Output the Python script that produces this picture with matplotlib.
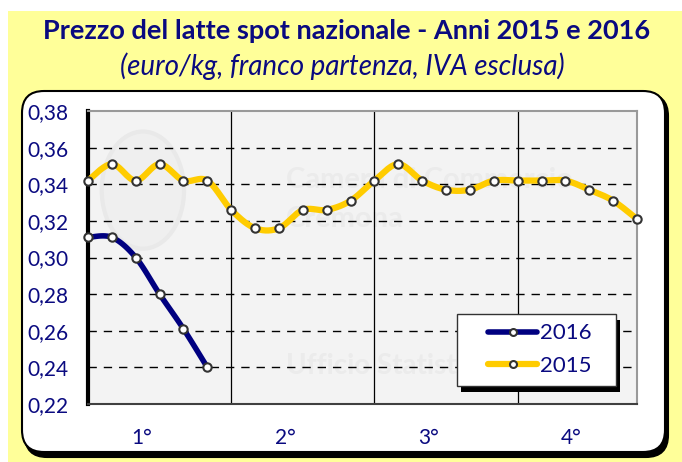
import numpy as np
import matplotlib
matplotlib.use("Agg")
import matplotlib.pyplot as plt
from matplotlib.patches import FancyBboxPatch, Rectangle, Ellipse
from matplotlib.lines import Line2D

plt.rcParams['font.family'] = ['Lato', 'DejaVu Sans']

# ================= dati =================
quarters = ['1°', '2°', '3°', '4°']
prezzi_2015 = [0.342, 0.351, 0.342, 0.351, 0.342, 0.342,
               0.326, 0.316, 0.316, 0.326, 0.326, 0.331,
               0.342, 0.351, 0.342, 0.337, 0.337, 0.342,
               0.342, 0.342, 0.342, 0.337, 0.331, 0.321]
prezzi_2016 = [0.311, 0.311, 0.300, 0.280, 0.261, 0.240]
y_ticks = [0.22, 0.24, 0.26, 0.28, 0.30, 0.32, 0.34, 0.36, 0.38]
# ========================================

NAVY = '#0a0a80'
GOLD = '#ffcc00'
BLUE = '#000080'
W, H = 682, 462


def smooth(xs, ys, n=16):
    # curva tipo "linea smussata" di Excel (Catmull-Rom)
    p = np.column_stack([xs, ys]).astype(float)
    p = np.vstack([p[0], p, p[-1]])
    out = []
    for i in range(1, len(p) - 2):
        p0, p1, p2, p3 = p[i - 1], p[i], p[i + 1], p[i + 2]
        t = np.linspace(0, 1, n, endpoint=False)[:, None]
        seg = 0.5 * ((2 * p1) + (-p0 + p2) * t + (2 * p0 - 5 * p1 + 4 * p2 - p3) * t ** 2
                     + (-p0 + 3 * p1 - 3 * p2 + p3) * t ** 3)
        out.append(seg)
    out.append(p[-2][None, :])
    c = np.vstack(out)
    return c[:, 0], c[:, 1]


fig = plt.figure(figsize=(W / 100, H / 100), dpi=100)
fig.patch.set_facecolor('white')

# sfondo in pixel
bg = fig.add_axes([0, 0, 1, 1])
bg.set_xlim(0, W)
bg.set_ylim(H, 0)
bg.axis('off')
bg.add_patch(Rectangle((8, 11), W - 8, H - 11, facecolor='#ffff99', edgecolor='none'))
bg.add_patch(FancyBboxPatch((25, 94), 643, 363, boxstyle='round,pad=0,rounding_size=22',
                            facecolor='black', edgecolor='black', lw=1.5))
bg.add_patch(FancyBboxPatch((22, 91), 643, 361, boxstyle='round,pad=0,rounding_size=22',
                            facecolor='white', edgecolor='black', lw=1.5))

fig.text(347 / W, 1 - 31 / H, 'Prezzo del latte spot nazionale - Anni 2015 e 2016',
         ha='center', va='center', fontsize=19.5, fontweight='bold', color=NAVY)
fig.text(342 / W, 1 - 66 / H, '(euro/kg, franco partenza, IVA esclusa)',
         ha='center', va='center', fontsize=20, style='italic', color=NAVY)

left, right, top, bottom = 88, 637, 111, 404
ax = fig.add_axes([left / W, 1 - bottom / H, (right - left) / W, (bottom - top) / H])
ax.set_facecolor('#f3f3f3')

# filigrana
ax.add_patch(Ellipse((0.10, 0.73), 0.15, 0.40, transform=ax.transAxes,
                     facecolor='#efefef', edgecolor='#e9e9e9', lw=3, zorder=0))
ax.text(0.36, 0.765, 'Camera di Commercio', transform=ax.transAxes, fontsize=21,
        fontweight='bold', color='#ebebeb', va='center', ha='left', zorder=0)
ax.text(0.36, 0.63, 'Cremona', transform=ax.transAxes, fontsize=21,
        fontweight='bold', color='#ebebeb', va='center', ha='left', zorder=0)
ax.text(0.36, 0.13, 'Ufficio Statistica', transform=ax.transAxes, fontsize=20,
        fontweight='bold', color='#ebebeb', va='center', ha='left', zorder=0)

x15 = np.arange(len(prezzi_2015))
x16 = np.arange(len(prezzi_2016))

ax.set_xlim(0, len(prezzi_2015) - 1)
ax.set_ylim(y_ticks[0], y_ticks[-1])
ax.set_yticks(y_ticks)
ax.set_yticklabels([f'{v:.2f}'.replace('.', ',') for v in y_ticks])
ax.tick_params(axis='y', length=0, pad=14, labelsize=15, labelcolor=NAVY)
ax.set_xticks([2.25 + 6 * i for i in range(len(quarters))])
ax.set_xticklabels(quarters)
ax.tick_params(axis='x', length=0, pad=17, labelsize=15, labelcolor=NAVY)

for v in y_ticks[1:-1]:
    ax.axhline(v, color='black', lw=1, ls=(0, (6, 5)), zorder=1)
for v in [6, 12, 18]:
    ax.axvline(v, color='black', lw=0.9, zorder=1)

for s in ['top', 'right']:
    ax.spines[s].set_color('#999999')
    ax.spines[s].set_linewidth(1.5)
ax.spines['left'].set_color('black')
ax.spines['left'].set_linewidth(3)
ax.spines['bottom'].set_color('#404040')
ax.spines['bottom'].set_linewidth(1.5)

sx, sy = smooth(x15, prezzi_2015)
ax.plot(sx, sy, color=GOLD, lw=4.5, solid_capstyle='round', zorder=3)
ax.plot(x15, prezzi_2015, ls='none', marker='o', ms=6, mfc='white', mec='#333333',
        mew=1.5, zorder=4, clip_on=False)
sx, sy = smooth(x16, prezzi_2016)
ax.plot(sx, sy, color=BLUE, lw=4, solid_capstyle='round', zorder=3)
ax.plot(x16, prezzi_2016, ls='none', marker='o', ms=6, mfc='white', mec='#333333',
        mew=1.5, zorder=4, clip_on=False)

# legenda: cornice con ombra nera disegnata a parte
ax.add_patch(Rectangle((0.679, 0.041), 0.29, 0.246, transform=ax.transAxes,
                       facecolor='black', edgecolor='none', zorder=5, clip_on=False))
ax.add_patch(Rectangle((0.672, 0.061), 0.29, 0.246, transform=ax.transAxes,
                       facecolor='white', edgecolor='#333333', lw=1, zorder=5.2, clip_on=False))
handles = [Line2D([], [], color=BLUE, lw=4, marker='o', ms=5, mfc='white', mec='#333333',
                  mew=1.5, solid_capstyle='round', markevery=[1]),
           Line2D([], [], color=GOLD, lw=4.5, marker='o', ms=5, mfc='white', mec='#333333',
                  mew=1.5, solid_capstyle='round', markevery=[1])]
leg = ax.legend(handles, ['2016', '2015'], loc='center left', bbox_to_anchor=(0.729, 0.186),
                fontsize=16, labelcolor=NAVY, frameon=False, handlelength=2.2,
                handletextpad=0.15, borderpad=0, labelspacing=0.55, borderaxespad=0)
leg.set_zorder(6)

fig.savefig('out.png', dpi=100, facecolor=fig.get_facecolor())
